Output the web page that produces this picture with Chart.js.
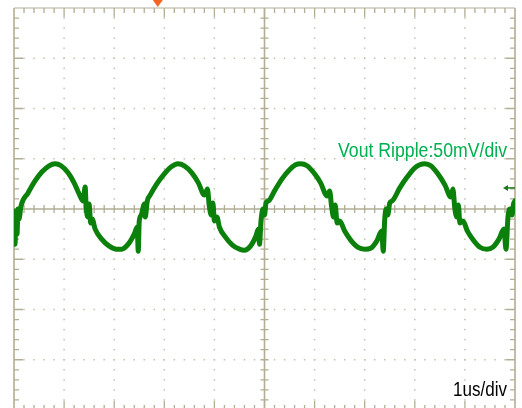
<!DOCTYPE html>
<html>
<head>
<meta charset="utf-8">
<script src="https://cdn.jsdelivr.net/npm/chart.js@4"></script>
<style>
  html, body { margin: 0; padding: 0; background: #fff; overflow: hidden; }
  canvas { display: block; }
</style>
</head>
<body>
<canvas id="scope" width="522" height="412"></canvas>
<script>
// ripple trace (1us/div, 50mV/div)
var timeUs = [0, 0.02, 0.04, 0.06, 0.08, 0.1, 0.14, 0.28, 0.42, 0.56, 0.7, 0.82, 0.94, 1.08, 1.2, 1.3, 1.38, 1.42, 1.44, 1.48,
  1.5, 1.53, 1.56, 1.62, 1.75, 1.9, 2.05, 2.15, 2.28, 2.4, 2.46, 2.48, 2.5, 2.54, 2.57, 2.6, 2.62, 2.66, 2.72, 2.85,
  3.0, 3.14, 3.27, 3.4, 3.55, 3.68, 3.8, 3.86, 3.9, 3.94, 3.97, 4.0, 4.05, 4.1, 4.22, 4.36, 4.5, 4.6, 4.72, 4.82,
  4.88, 4.9, 4.93, 4.97, 5.0, 5.03, 5.08, 5.2, 5.35, 5.5, 5.62, 5.72, 5.85, 6.0, 6.12, 6.25, 6.3, 6.34, 6.38, 6.41,
  6.45, 6.5, 6.6, 6.72, 6.86, 7.0, 7.12, 7.24, 7.34, 7.37, 7.4, 7.43, 7.46, 7.5, 7.55, 7.7, 7.85, 8.0, 8.1, 8.2,
  8.32, 8.46, 8.6, 8.72, 8.76, 8.8, 8.84, 8.87, 8.9, 8.96, 9.05, 9.17, 9.3, 9.44, 9.56, 9.68, 9.78, 9.82, 9.86, 9.9,
  9.94, 9.97, 10.0];
var rippleMv = [-2, -35, -5, -25, 0, -10, 3, 16, 28, 37, 43, 45, 43, 36, 26, 15, 8, 22, 2, -8,
  5, -14, -10, -20, -30, -37, -40, -40, -35, -25, -18, -42, -12, -6, 0, 5, -8, 8, 14, 25,
  35, 42, 45, 43, 36, 26, 14, 20, 2, -6, 6, -12, -8, -18, -28, -36, -40, -41, -37, -28,
  -20, -35, -12, 0, -6, 6, 8, 18, 30, 39, 44, 45, 43, 35, 26, 13, 18, 2, -8, 4,
  -14, -12, -22, -31, -38, -40, -39, -32, -22, -42, -10, 0, -6, 6, 8, 21, 32, 41, 44, 45,
  43, 35, 24, 12, 20, 0, -8, 4, -14, -12, -22, -31, -38, -40, -38, -30, -20, -40, -8, 0,
  -6, 5, 8];

var xRange = [0, 10];        // 10 divisions of 1us
var yRange = [-200, 200];    // 8 divisions of 50mV
var rippleLabel = 'Vout Ripple:50mV/div';
var timeLabel = '1us/div';
var triggerTimeUs = 2.87;
var triggerLevelMv = 21;

var points = timeUs.map(function (t, i) { return { x: t, y: rippleMv[i] }; });

var gridColor = '#c2c2b2';
var frameColor = '#b3ad95';

// graticule: dotted grid, framed edges with ticks, centre cross
var graticule = {
  id: 'graticule',
  beforeDatasetsDraw: function (chart) {
    var ctx = chart.ctx;
    var xs = chart.scales.x, ys = chart.scales.y;
    var a = chart.chartArea;
    var i, k;
    ctx.save();
    ctx.fillStyle = gridColor;
    for (i = 1; i < 10; i++) {
      if (i === 5) continue;
      var px = xs.getPixelForValue(i);
      for (k = 1; k < 40; k++) {
        ctx.fillRect(px - 0.75, ys.getPixelForValue(yRange[0] + k * 10) - 0.75, 1.5, 1.5);
      }
    }
    for (i = 1; i < 8; i++) {
      if (i === 4) continue;
      var py = ys.getPixelForValue(yRange[0] + i * 50);
      for (k = 1; k < 50; k++) {
        ctx.fillRect(xs.getPixelForValue(k * 0.2) - 0.75, py - 0.75, 1.5, 1.5);
      }
    }

    ctx.strokeStyle = frameColor;
    ctx.lineWidth = 1.6;
    ctx.beginPath();
    ctx.moveTo(a.left, a.top); ctx.lineTo(a.left, a.bottom);
    ctx.moveTo(a.right, a.top); ctx.lineTo(a.right, a.bottom);
    ctx.moveTo(a.left, a.bottom); ctx.lineTo(a.right, a.bottom);
    var cx = xs.getPixelForValue(5), cy = ys.getPixelForValue(0);
    ctx.moveTo(cx, a.top); ctx.lineTo(cx, a.bottom);
    ctx.moveTo(a.left, cy); ctx.lineTo(a.right, cy);
    ctx.stroke();
    ctx.lineWidth = 1;
    ctx.beginPath();
    ctx.moveTo(a.left, a.top); ctx.lineTo(a.right, a.top);
    ctx.stroke();

    ctx.lineWidth = 1.3;
    ctx.beginPath();
    for (k = 1; k < 50; k++) {
      var tx = xs.getPixelForValue(k * 0.2);
      var len = (k % 5 === 0) ? 9 : 5;
      ctx.moveTo(tx, a.top); ctx.lineTo(tx, a.top + len);
      ctx.moveTo(tx, a.bottom); ctx.lineTo(tx, a.bottom - len);
      ctx.moveTo(tx, cy - 4); ctx.lineTo(tx, cy + 4);
    }
    for (k = 1; k < 40; k++) {
      var ty = ys.getPixelForValue(yRange[0] + k * 10);
      var len2 = (k % 5 === 0) ? 9 : 5;
      ctx.moveTo(a.left, ty); ctx.lineTo(a.left + len2, ty);
      ctx.moveTo(a.right, ty); ctx.lineTo(a.right - len2, ty);
      ctx.moveTo(cx - 4, ty); ctx.lineTo(cx + 4, ty);
    }
    ctx.stroke();
    ctx.restore();
  },
  afterDatasetsDraw: function (chart) {
    var ctx = chart.ctx;
    var xs = chart.scales.x, ys = chart.scales.y;
    var a = chart.chartArea;
    ctx.save();

    // trigger position marker
    var tx = xs.getPixelForValue(triggerTimeUs);
    ctx.fillStyle = '#f26522';
    ctx.beginPath();
    ctx.moveTo(tx - 5, 0); ctx.lineTo(tx + 5, 0); ctx.lineTo(tx, a.top - 1);
    ctx.closePath();
    ctx.fill();

    // trigger level arrow
    var ly = ys.getPixelForValue(triggerLevelMv);
    ctx.strokeStyle = '#1a7a1a';
    ctx.fillStyle = '#1a7a1a';
    ctx.lineWidth = 1.5;
    ctx.beginPath();
    ctx.moveTo(a.right - 10, ly); ctx.lineTo(a.right, ly);
    ctx.stroke();
    ctx.beginPath();
    ctx.moveTo(a.right - 12, ly); ctx.lineTo(a.right - 7, ly - 3); ctx.lineTo(a.right - 7, ly + 3);
    ctx.closePath();
    ctx.fill();

    function squeezed(text, right, base, width, color) {
      ctx.font = '21px "Liberation Sans Narrow", "Arial Narrow", "Liberation Sans", Arial, sans-serif';
      var w = ctx.measureText(text).width;
      ctx.save();
      ctx.translate(right, base);
      ctx.scale(width / w, 1);
      ctx.fillStyle = color;
      ctx.textAlign = 'right';
      ctx.textBaseline = 'alphabetic';
      ctx.fillText(text, 0, 0);
      ctx.restore();
    }
    squeezed(rippleLabel, xs.getPixelForValue(9.84), ys.getPixelForValue(52), 169, '#00b050');
    squeezed(timeLabel, xs.getPixelForValue(9.84), ys.getPixelForValue(-186), 54, '#000000');
    ctx.restore();
  }
};

var ctx = document.getElementById('scope').getContext('2d');

var scopeChart = new Chart(ctx, {
  type: 'line',
  data: {
    datasets: [{
      label: 'Vout Ripple',
      data: points,
      borderColor: '#0b800b',
      borderWidth: 5,
      borderJoinStyle: 'round',
      borderCapStyle: 'round',
      pointRadius: 0,
      cubicInterpolationMode: 'monotone',
      fill: false
    }]
  },
  options: {
    responsive: false,
    animation: false,
    layout: { padding: { left: 14, right: 7, top: 8, bottom: 2 } },
    plugins: { legend: { display: false }, tooltip: { enabled: false } },
    scales: {
      x: { type: 'linear', min: xRange[0], max: xRange[1], display: false },
      y: { type: 'linear', min: yRange[0], max: yRange[1], display: false }
    }
  },
  plugins: [graticule]
});
</script>
</body>
</html>
